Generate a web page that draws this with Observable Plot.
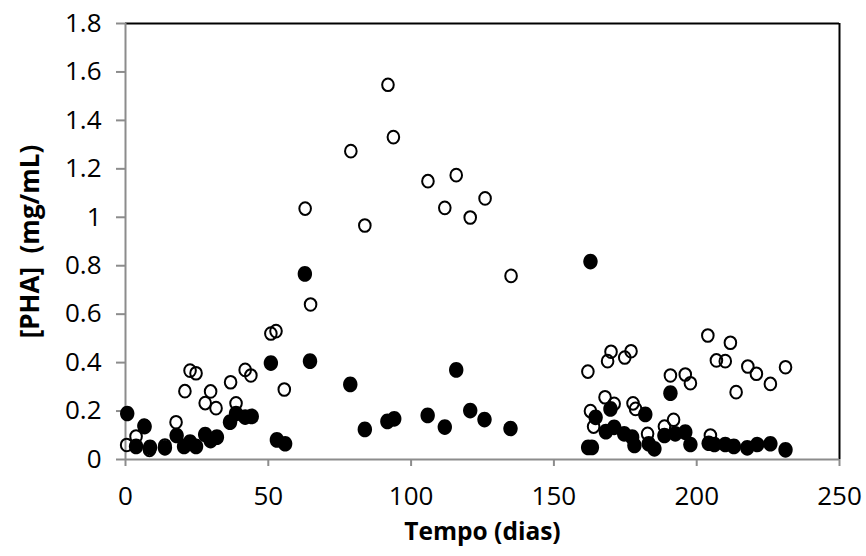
<!DOCTYPE html>
<html>
<head>
<meta charset="utf-8">
<script src="https://cdn.jsdelivr.net/npm/d3@7"></script>
<script src="https://cdn.jsdelivr.net/npm/@observablehq/plot@0.6"></script>
<style>
  html, body { margin: 0; padding: 0; background: #fff; }
  #chart { width: 866px; height: 556px; }
</style>
</head>
<body>
<div id="chart"></div>
<script>
// Open-circle series (tempo em dias, [PHA] mg/mL)
const openDays = [0.4, 3.7, 6.5, 8.4, 13.8, 17.7, 20.8, 22.6, 24.7, 27.9, 29.8, 31.7, 36.8, 38.7, 41.9, 43.9,
  50.9, 52.7, 55.6, 62.9, 64.8, 78.9, 83.8, 91.9, 93.8, 105.9, 111.8, 115.8, 120.7, 125.9, 135.0,
  161.9, 162.8, 163.9, 167.9, 168.8, 170.0, 171.1, 174.8, 177.0, 177.7, 178.6, 182.8, 188.7, 190.8,
  191.9, 196.0, 197.8, 203.9, 204.8, 206.9, 210.0, 211.8, 213.8, 217.9, 220.9, 225.8, 231.1];
const openPHA = [0.06, 0.095, 0.14, 0.04, 0.058, 0.154, 0.282, 0.367, 0.356, 0.233, 0.281, 0.212, 0.319, 0.232, 0.37, 0.347,
  0.52, 0.53, 0.289, 1.036, 0.64, 1.273, 0.966, 1.547, 1.331, 1.149, 1.039, 1.174, 0.999, 1.078, 0.758,
  0.363, 0.2, 0.136, 0.257, 0.406, 0.445, 0.23, 0.421, 0.447, 0.232, 0.209, 0.106, 0.136, 0.347,
  0.164, 0.351, 0.315, 0.512, 0.099, 0.409, 0.406, 0.482, 0.278, 0.384, 0.354, 0.312, 0.381];

// Filled-circle series
const filledDays = [0.6, 3.7, 6.7, 8.6, 13.8, 17.9, 20.5, 22.6, 24.7, 27.9, 29.8, 32.0, 36.6, 38.7, 41.9, 44.2,
  50.9, 53.0, 55.9, 62.8, 64.6, 78.7, 83.8, 91.7, 94.1, 105.8, 111.8, 115.8, 120.7, 125.7, 134.8,
  162.0, 163.3, 162.8, 164.6, 168.2, 169.8, 171.1, 174.6, 177.4, 178.2, 182.0, 183.2, 185.2, 188.7,
  190.8, 192.5, 196.0, 197.8, 204.2, 206.2, 210.0, 213.0, 217.7, 221.2, 225.8, 231.1];
const filledPHA = [0.19, 0.054, 0.136, 0.05, 0.048, 0.099, 0.054, 0.072, 0.054, 0.103, 0.078, 0.092, 0.154, 0.19, 0.175, 0.178,
  0.398, 0.081, 0.065, 0.766, 0.406, 0.31, 0.124, 0.157, 0.168, 0.182, 0.134, 0.37, 0.202, 0.165, 0.128,
  0.05, 0.05, 0.817, 0.174, 0.115, 0.209, 0.133, 0.106, 0.092, 0.058, 0.186, 0.065, 0.044, 0.099,
  0.274, 0.106, 0.113, 0.062, 0.067, 0.062, 0.062, 0.054, 0.048, 0.062, 0.065, 0.04];

// Axis ticks and titles
const xTicks = [0, 50, 100, 150, 200, 250];
const yTicks = [0, 0.2, 0.4, 0.6, 0.8, 1, 1.2, 1.4, 1.6, 1.8];
const xTitle = ["Tempo (dias)"];
const yTitle = ["[PHA]  (mg/mL)"];

const openData = openDays.map((d, i) => ({x: d, y: openPHA[i]}));
const filledData = filledDays.map((d, i) => ({x: d, y: filledPHA[i]}));

// Slightly taller-than-wide marker, like the spreadsheet original
const ellipse = {
  draw(ctx, size) {
    const rx = Math.sqrt(size / Math.PI), ry = rx * 1.09, k = 0.5523;
    ctx.moveTo(rx, 0);
    ctx.bezierCurveTo(rx, k * ry, k * rx, ry, 0, ry);
    ctx.bezierCurveTo(-k * rx, ry, -rx, k * ry, -rx, 0);
    ctx.bezierCurveTo(-rx, -k * ry, -k * rx, -ry, 0, -ry);
    ctx.bezierCurveTo(k * rx, -ry, rx, -k * ry, rx, 0);
    ctx.closePath();
  }
};

const gray = "#8c8c8c";
const font = "'Open Sans', sans-serif";

const chart = Plot.plot({
  width: 866,
  height: 556,
  marginLeft: 125,
  marginRight: 27,
  marginTop: 23,
  marginBottom: 97,
  style: {fontFamily: font, fontSize: "26px", color: "black", background: "white"},
  x: {domain: [0, 250]},
  y: {domain: [0, 1.8]},
  marks: [
    Plot.ruleY([1.8], {stroke: "black", strokeWidth: 2}),
    Plot.ruleX([250], {stroke: "black", strokeWidth: 2}),
    Plot.ruleY([0], {stroke: gray, strokeWidth: 2}),
    Plot.ruleX([0], {stroke: gray, strokeWidth: 2}),
    Plot.axisX({ticks: xTicks, tickSize: 7, tickPadding: 20, stroke: gray, strokeWidth: 2,
      tickFormat: d3.format("~g"), fontSize: 26, label: null}),
    Plot.axisY({ticks: yTicks, tickSize: 9, tickPadding: 15, stroke: gray, strokeWidth: 2,
      tickFormat: d3.format("~g"), fontSize: 26, label: null}),
    Plot.dot(openData, {x: "x", y: "y", r: 5.8, symbol: ellipse, fill: "none", stroke: "black", strokeWidth: 2}),
    Plot.dot(filledData, {x: "x", y: "y", r: 7.2, symbol: ellipse, fill: "black", stroke: "none"}),
    Plot.text(xTitle, {frameAnchor: "bottom", dy: 80, fontSize: 24.5, fontWeight: "bold"}),
    Plot.text(yTitle, {frameAnchor: "left", textAnchor: "middle", dx: -95, rotate: -90, fontSize: 26, fontWeight: "bold"})
  ]
});
document.getElementById("chart").append(chart);
</script>
</body>
</html>
